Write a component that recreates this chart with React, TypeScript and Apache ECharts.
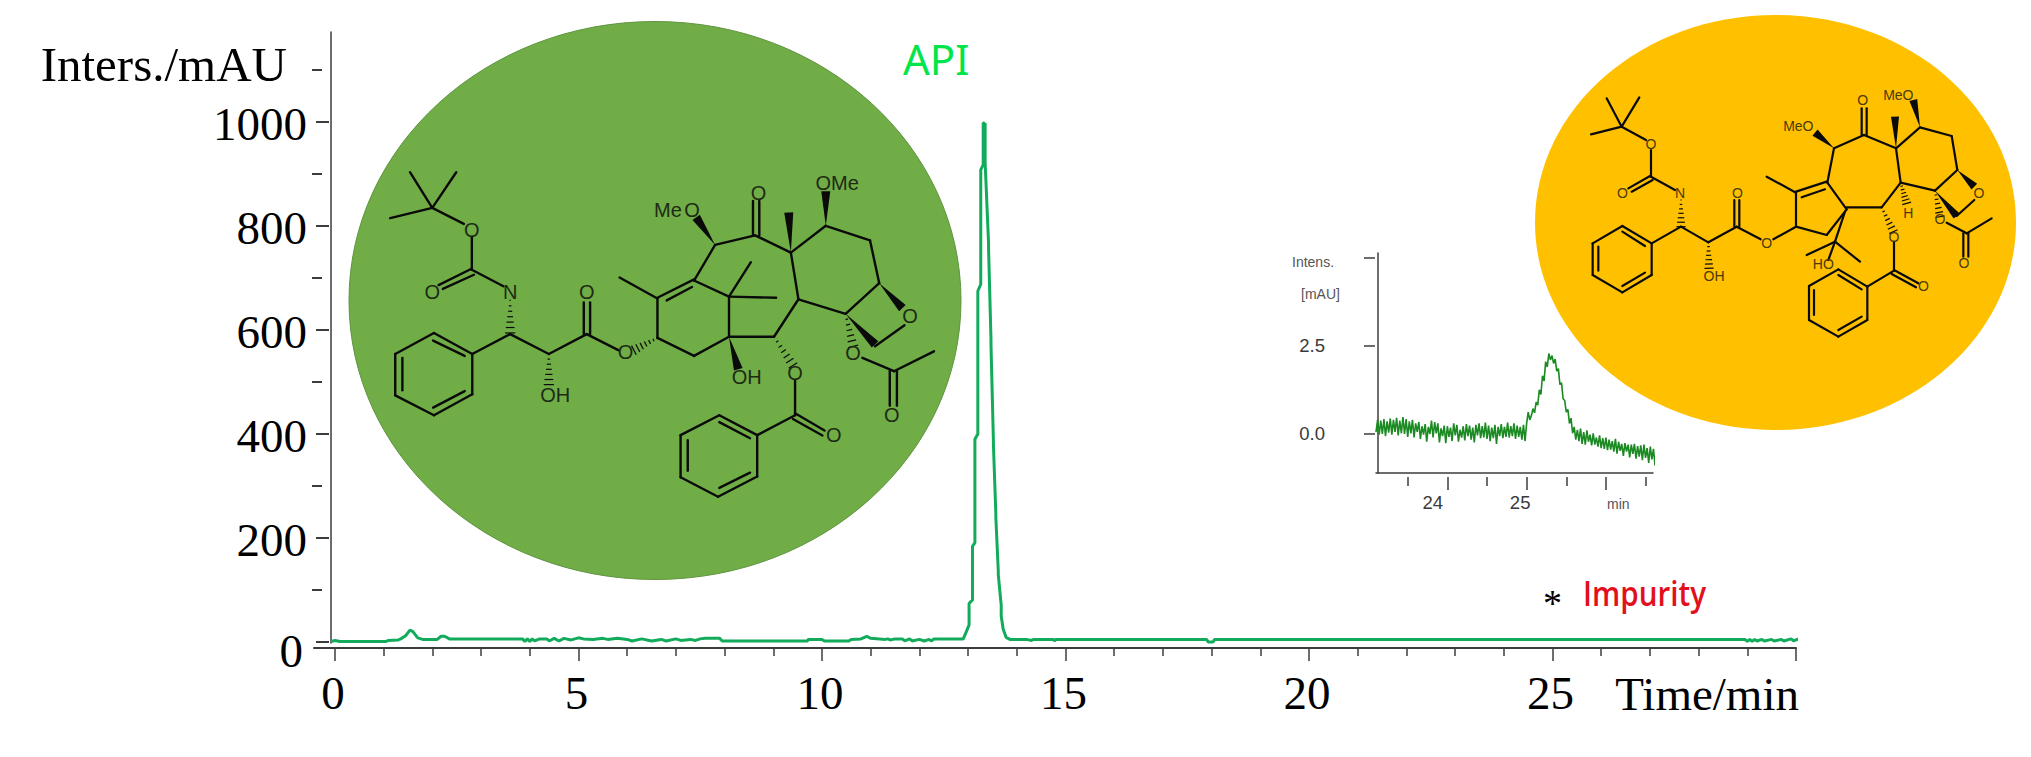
import React, { useEffect, useRef } from "react";
import * as echarts from "echarts";

const SERIF = "Liberation Serif";
const SANS = "Liberation Sans";

// ---------- main chromatogram ----------
const yMajorTicks = [0, 200, 400, 600, 800, 1000];
const yMinorTicks = [100, 300, 500, 700, 900, 1100];
const xMajorTicks = [0, 5, 10, 15, 20, 25, 30];
const xMajorLabels = [0, 5, 10, 15, 20, 25];
const xMinorTicks = [1, 2, 3, 4, 6, 7, 8, 9, 11, 12, 13, 14, 16, 17, 18, 19, 21, 22, 23, 24, 26, 27, 28, 29];

const traceTimes = [
  -0.08, 0, 0.1, 1.05, 1.1, 1.3, 1.35, 1.45, 1.54, 1.6, 1.7, 1.8, 2.1, 2.18, 2.25, 2.35, 3.85, 3.9, 3.95, 4.0, 4.05, 4.1, 4.2,
  4.35, 4.4, 4.5, 4.6, 4.7, 4.85, 5, 5.1, 5.3, 5.5, 5.6, 5.8, 6, 6.1, 6.3, 6.5, 6.7, 6.8, 7, 7.1, 7.3, 7.4, 7.5, 7.6, 7.9, 7.95,
  9.7, 9.72, 10.0, 10.05, 10.55, 10.6, 10.8, 10.92, 11.0, 11.3, 11.35, 11.4, 11.5, 11.65, 11.7, 11.8, 11.85, 12, 12.1, 12.2, 12.25, 12.3,
  12.9, 12.96, 13.02, 13.02, 13.09, 13.09, 13.14, 13.14, 13.2, 13.2, 13.26, 13.26, 13.31, 13.31, 13.33, 13.33, 13.35, 13.35, 13.42, 13.42,
  13.47, 13.47, 13.52, 13.52, 13.57, 13.57, 13.62, 13.62, 13.68, 13.68, 13.72, 13.78, 13.86, 13.93,
  14.2, 14.3, 14.35, 14.75, 14.78, 14.8, 17.9, 17.93, 18.03, 18.06, 28.95, 29, 29.05, 29.1, 29.15, 29.2, 29.3, 29.35, 29.5, 29.55,
  29.7, 29.75, 29.9, 29.95, 30.05, 30.14,
];
const traceValues = [
  1, 3, 1, 1, 3, 4, 6, 12, 23, 20, 8, 5, 5, 11, 11, 6, 6, 1, 6, 1, 6, 2, 6,
  6, 2, 7, 2, 7, 4, 8, 6, 5, 7, 5, 7, 5, 2, 6, 2, 5, 2, 6, 3, 5, 3, 6, 7, 7, 2,
  2, 5, 5, 2, 2, 5, 6, 11, 7, 5, 6, 4, 6, 6, 2, 6, 2, 5, 2, 5, 2, 6,
  6, 19, 33, 74, 81, 184, 191, 390, 400, 675, 688, 908, 918, 998, 998, 932, 998, 922, 767, 757,
  582, 572, 386, 379, 246, 239, 136, 129, 71, 50, 25, 9, 5, 5,
  5, 3, 5, 5, 2, 5, 5, 0, 0, 5, 5, 1, 5, 1, 5, 2, 5, 2, 5, 2,
  5, 2, 6, 2, 6, 3,
];

// ---------- inset chromatogram (one reading every 0.02 min from 23.10) ----------
const insetStart = 23.1;
const insetStep = 0.02;
const insetValues = [
  0.05, 0.4, -0.02, 0.38, 0.0, 0.42, -0.06, 0.36, 0.04, 0.44, -0.02, 0.4, 0.06, 0.46, -0.04, 0.38, 0.02, 0.48, 0.0, 0.42, -0.08,
  0.36, 0.02, 0.4, -0.1, 0.3, 0.06, 0.34, -0.14, 0.22, -0.02, 0.28, -0.22, 0.2, 0.0, 0.38, -0.1, 0.34, 0.02, 0.3, -0.24, 0.16, -0.06, 0.24, -0.26,
  0.22, -0.08, 0.18, -0.2, 0.3, -0.04, 0.26, -0.22, 0.12, -0.1, 0.22, -0.18, 0.28, -0.06, 0.24, -0.16, 0.18, -0.24, 0.26, -0.04, 0.3, -0.12, 0.22, -0.1, 0.32,
  -0.14, 0.24, -0.2, 0.18, -0.12, 0.26, -0.28, 0.2, -0.06, 0.28, -0.12, 0.2, -0.08, 0.32, -0.1, 0.22, -0.06, 0.3, -0.14, 0.24, -0.08, 0.2, -0.16, 0.26, -0.2,
  0.3, 0.62, 0.4, 0.52, 0.72, 0.6, 0.9, 0.82, 1.25, 1.12, 1.65, 1.5, 2.05, 1.9, 2.28, 2.1, 2.22, 2.0, 2.12, 1.78, 1.85, 1.4, 1.45, 1.0, 0.95, 0.62, 0.7, 0.3, 0.45, 0.02, 0.2,
  -0.16, 0.12, -0.2, 0.15, -0.28, 0.05, -0.3, 0.1, -0.22, -0.02, -0.32, 0.02, -0.3, -0.1, -0.36, -0.04, -0.4, -0.12, -0.42,
  -0.1, -0.46, -0.16, -0.44, -0.2, -0.5, -0.14, -0.56, -0.22, -0.48, -0.28, -0.62, -0.26, -0.5, -0.3, -0.66, -0.3, -0.56, -0.28, -0.7, -0.34, -0.64, -0.32, -0.74, -0.3, -0.68, -0.4, -0.82, -0.36,
  -0.72, -0.42, -0.9, -0.4, -0.8,
];
const insetYTicks = [0, 2.5, 5];
const insetYLabels = [0, 2.5];
const insetXMajor = [24, 25, 26];
const insetXLabels = [24, 25];
const insetXMinor = [23.5, 24.5, 25.5, 26.5];

// ---------- structure drawings (in crop coordinates, mapped by a transform) ----------
type Seg = number[];
const mol1Bonds: Seg[] = [
  [243,543,190,450],[243,543,300,450],[243,543,143,570],[243,543,318,585],[337,620,337,705],[335,703,258,745],[342,718,268,755],[337,705,412,748],
  [428,873,338,925],[338,925,338,1030],[338,1030,247,1085],[247,1085,155,1033],[155,1033,155,925],[155,925,247,870],[247,870,338,925],
  [245,890,320,930],[172,935,172,1020],[245,1065,320,1022],
  [428,873,520,925],[520,925,610,873],[603,873,603,790],[618,873,618,790],[610,873,685,915],
  [778,883,778,780],[778,778,865,730],[800,785,860,750],[778,780,688,725],[778,883,865,930],[865,930,948,880],[948,880,948,775],[948,775,865,733],
  [865,733,915,640],[915,640,1010,615],[1005,615,1005,525],[1020,615,1020,525],[1010,615,1095,660],[1095,660,1178,590],[1178,590,1283,628],
  [1283,628,1305,740],[1305,740,1225,820],[1365,850,1295,905],[1225,820,1113,782],[1113,782,1095,660],[1113,782,1055,880],[1055,880,948,880],
  [1105,995,1105,1085],[1105,1080,1175,1125],[1100,1095,1170,1138],[1105,1085,1015,1137],
  [1015,1137,1015,1245],[1015,1245,922,1298],[922,1298,833,1247],[833,1247,833,1137],[833,1137,925,1085],[925,1085,1015,1137],
  [925,1103,998,1145],[850,1150,850,1230],[925,1275,998,1235],
  [948,775,1000,685],[948,775,1060,778],[1265,935,1340,970],[1340,970,1435,918],[1330,970,1330,1060],[1347,970,1347,1060],
];
const mol1Wedges: Seg[] = [
  [915,640,870,568],[1095,660,1090,555],[1178,590,1178,500],[1305,740,1360,805],[1225,820,1295,900],[948,880,970,965],
];
const mol1Hashes: Seg[] = [
  [428,785,428,870],[520,925,520,1005],[778,883,722,915],[1055,880,1100,955],[1225,820,1243,905],
];
const mol1Atoms: [string, number, number][] = [
  ["O",337,600],["O",243,762],["N",428,763],["OH",535,1032],["O",610,763],["O",702,920],["Me",803,548],["O",860,548],["O",1018,505],
  ["OMe",1205,478],["O",1378,825],["O",1105,975],["O",1197,1137],["OH",990,985],["O",1243,922],["O",1335,1085],
];
const mol2Bonds: Seg[] = [
  [335,380,290,295],[335,380,388,292],[335,380,243,403],[335,380,408,420],[423,450,423,530],[420,528,355,565],[428,540,365,575],[423,530,495,570],
  [513,680,425,730],[425,730,425,825],[425,825,337,877],[337,877,248,825],[248,825,248,730],[248,730,337,678],[337,678,425,730],
  [337,695,405,738],[265,740,265,812],[337,858,405,818],
  [513,680,595,727],[595,727,680,680],[673,680,673,600],[688,680,688,600],[680,680,752,718],[790,718,858,680],
  [858,680,858,578],[858,575,950,545],[875,592,945,568],[858,578,770,530],[858,680,950,705],[950,705,1010,628],[1010,628,952,548],
  [952,548,972,445],[972,445,1062,405],[1055,405,1055,325],[1070,405,1070,325],[1062,405,1158,445],[1158,445,1230,382],[1230,382,1325,408],
  [1325,408,1342,510],[1342,510,1275,572],[1393,600,1340,648],[1275,572,1172,548],[1172,548,1158,445],[1172,548,1115,622],[1115,622,1010,622],
  [1152,725,1152,812],[1152,810,1225,850],[1145,822,1218,862],[1152,812,1072,860],
  [1072,860,1072,960],[1072,960,985,1010],[985,1010,897,960],[897,960,897,858],[897,858,985,808],[985,808,1072,860],
  [985,825,1055,868],[912,870,912,945],[985,990,1055,950],
  [1005,635,975,725],[975,725,890,765],[975,725,1050,785],[975,725,955,780],[1310,668,1370,700],[1370,700,1445,655],[1360,700,1360,770],[1375,700,1375,770],
];
const mol2Wedges: Seg[] = [
  [972,445,915,398],[1158,445,1155,350],[1230,382,1210,300],[1342,510,1393,560],[1275,572,1340,648],
];
const mol2Hashes: Seg[] = [
  [513,600,513,680],[595,727,597,805],[1172,548,1190,610],[1115,622,1150,695],[1275,572,1290,650],
];
const mol2Atoms: [string, number, number][] = [
  ["O",423,432],["O",337,580],["N",510,580],["OH",612,828],["O",682,580],["O",770,728],["MeO",865,378],["O",1058,300],["MeO",1165,285],
  ["O",1407,580],["H",1195,638],["O",1152,710],["O",1240,858],["HO",940,793],["O",1290,658],["O",1362,788],
];

function molecule(
  bonds: Seg[], wedges: Seg[], hashes: Seg[], atoms: [string, number, number][],
  ox: number, sx: number, sy: number, lw: number, wedgeW: number, fs: number, atomColor: string
) {
  const X = (x: number) => ox + x / sx;
  const Y = (y: number) => y / sy;
  const out: any[] = [];
  bonds.forEach(([a, b, c, d]) =>
    out.push({ type: "line", z: 3, shape: { x1: X(a), y1: Y(b), x2: X(c), y2: Y(d) }, style: { stroke: "#0a0a0a", lineWidth: lw, lineCap: "round" } })
  );
  const perp = (a: number, b: number, c: number, d: number) => {
    const dx = X(c) - X(a), dy = Y(d) - Y(b);
    const len = Math.hypot(dx, dy) || 1;
    return [-dy / len, dx / len];
  };
  wedges.forEach(([a, b, c, d]) => {
    const [px, py] = perp(a, b, c, d);
    out.push({
      type: "polygon", z: 3,
      shape: { points: [[X(a), Y(b)], [X(c) + px * wedgeW, Y(d) + py * wedgeW], [X(c) - px * wedgeW, Y(d) - py * wedgeW]] },
      style: { fill: "#0a0a0a" },
    });
  });
  hashes.forEach(([a, b, c, d]) => {
    const [px, py] = perp(a, b, c, d);
    for (let i = 0; i <= 6; i++) {
      const f = i / 6;
      const x = X(a) + (X(c) - X(a)) * f, y = Y(b) + (Y(d) - Y(b)) * f;
      const w = 0.6 + (wedgeW * f);
      out.push({ type: "line", z: 3, shape: { x1: x - px * w, y1: y - py * w, x2: x + px * w, y2: y + py * w }, style: { stroke: "#0a0a0a", lineWidth: 1.2 } });
    }
  });
  atoms.forEach(([t, x, y]) =>
    out.push({
      type: "text", z: 4, x: X(x), y: Y(y),
      style: { text: t, fontFamily: SANS, fontSize: fs, fill: atomColor, align: "center", verticalAlign: "middle" },
    })
  );
  return out;
}

function label(text: string, x: number, y: number, font: string, size: number, fill: string, extra: any = {}, scaleX = 1) {
  return { type: "text", z: 5, x, y, scaleX, style: { text: text, fontFamily: font, fontSize: size, fill, align: "left", verticalAlign: "middle", ...extra } };
}

export default function App() {
  const ref = useRef<HTMLDivElement>(null);
  useEffect(() => {
    document.body.style.margin = "0";
    const chart = echarts.init(ref.current!, undefined, { renderer: "svg" });
    const axisColor = "#3c3c3c";
    const mainLine = traceTimes.map((t, i) => [t, traceValues[i]]);
    const insetLine = insetValues.map((v, i) => [+(insetStart + i * insetStep).toFixed(2), v]);
    const serifNum = { fontFamily: SERIF, fontSize: 47, color: "#000" };
    const sansNum = { fontFamily: SANS, fontSize: 18.5, color: "#3a3a3a" };
    const hiddenLine = { show: false, onZero: false };

    const graphics: any[] = [
      { type: "ellipse", z: 1, shape: { cx: 655, cy: 300.5, rx: 306, ry: 279 }, style: { fill: "#70AD47", stroke: "#5F9440", lineWidth: 1 } },
      { type: "ellipse", z: 1, shape: { cx: 1775.5, cy: 222.5, rx: 240.5, ry: 207.5 }, style: { fill: "#FFC000" } },
      ...molecule(mol1Bonds, mol1Wedges, mol1Hashes, mol1Atoms, 330, 2.376, 2.613, 2.4, 4.5, 20, "#1e2a14"),
      ...molecule(mol2Bonds, mol2Wedges, mol2Hashes, mol2Atoms, 1510, 3, 3, 2.2, 4, 14, "#4a3a0c"),
      label("API", 903, 58, "Noto Sans", 42, "#00E64A"),
      label("Impurity", 1583, 593, "Open Sans", 34, "#E2101C", { fontWeight: 600 }, 0.87),
      label("*", 1543, 603, SERIF, 38, "#000"),
      label("Intens.", 1292, 262, SANS, 14, "#555"),
      label("[mAU]", 1301, 294, SANS, 14, "#555"),
      label("min", 1607, 504, SANS, 14, "#555"),
    ];

    const option: any = {
      animation: false,
      backgroundColor: "#fff",
      tooltip: { show: false },
      legend: { show: false },
      grid: [
        { left: 314, top: 32, width: 1482, height: 611 },
        { left: 1376, top: 253, width: 277, height: 220 },
      ],
      xAxis: [
        {
          type: "value", gridIndex: 0, min: -0.431, max: 30, offset: 5, position: "bottom", splitLine: { show: false },
          name: "Time/min", nameLocation: "end", nameGap: 3,
          nameTextStyle: { fontFamily: SERIF, fontSize: 47, color: "#000", align: "right", verticalAlign: "top", padding: [22, 0, 0, 0] },
          axisLine: { show: true, onZero: false, lineStyle: { color: axisColor, width: 2 } },
          axisTick: { show: true, length: 13, customValues: xMajorTicks, lineStyle: { color: axisColor, width: 1.5 } },
          axisLabel: { show: true, margin: 21, customValues: xMajorLabels, ...serifNum, padding: [0, 4, 0, 0] },
        },
        {
          type: "value", gridIndex: 0, min: -0.431, max: 30, offset: 5, position: "bottom", splitLine: { show: false },
          axisLine: hiddenLine,
          axisTick: { show: true, length: 8, customValues: xMinorTicks, lineStyle: { color: axisColor, width: 1.5 } },
          axisLabel: { show: false },
        },
        {
          type: "value", gridIndex: 1, min: 23.1, max: 26.594, position: "bottom", splitLine: { show: false },
          axisLine: { show: true, onZero: false, lineStyle: { color: axisColor, width: 1.5 } },
          axisTick: { show: false }, axisLabel: { show: false },
        },
        {
          type: "value", gridIndex: 1, min: 23.1, max: 26.594, offset: 4, position: "bottom", splitLine: { show: false },
          axisLine: hiddenLine,
          axisTick: { show: true, length: 13, customValues: insetXMajor, lineStyle: { color: axisColor, width: 1.5 } },
          axisLabel: {
            show: true, margin: 16, customValues: insetXLabels, ...sansNum,
            formatter: (v: number) => (v === 24 ? `{a|${v}}` : `{b|${v}}`),
            rich: { a: { ...sansNum, padding: [0, 29, 0, 0] }, b: { ...sansNum, padding: [0, 13, 0, 0] } },
          },
        },
        {
          type: "value", gridIndex: 1, min: 23.1, max: 26.594, offset: 4, position: "bottom", splitLine: { show: false },
          axisLine: hiddenLine,
          axisTick: { show: true, length: 9, customValues: insetXMinor, lineStyle: { color: axisColor, width: 1.5 } },
          axisLabel: { show: false },
        },
      ],
      yAxis: [
        {
          type: "value", gridIndex: 0, min: -1.92, max: 1173.08, offset: -17, position: "left", splitLine: { show: false },
          name: "Inters./mAU", nameLocation: "end", nameGap: 0,
          nameTextStyle: { fontFamily: SERIF, fontSize: 49, color: "#000", align: "right", verticalAlign: "top", padding: [8, 44, 0, 0] },
          axisLine: { show: true, onZero: false, lineStyle: { color: axisColor, width: 1.5 } },
          axisTick: { show: false }, axisLabel: { show: false },
        },
        {
          type: "value", gridIndex: 0, min: -1.92, max: 1173.08, offset: -15, position: "left", splitLine: { show: false },
          axisLine: hiddenLine,
          axisTick: { show: true, length: 13, customValues: yMajorTicks, lineStyle: { color: axisColor, width: 2 } },
          axisLabel: {
            show: true, margin: 22, customValues: yMajorTicks, ...serifNum, padding: [3, 0, 0, 0],
            formatter: (v: number) => (v === 0 ? "{z|0}" : `${v}`),
            rich: { z: { ...serifNum, padding: [15, 4, 0, 0] } },
          },
        },
        {
          type: "value", gridIndex: 0, min: -1.92, max: 1173.08, offset: -8, position: "left", splitLine: { show: false },
          axisLine: hiddenLine,
          axisTick: { show: true, length: 10, customValues: yMinorTicks, lineStyle: { color: axisColor, width: 2 } },
          axisLabel: { show: false },
        },
        {
          type: "value", gridIndex: 1, min: -1.105, max: 5.127, offset: -2, position: "left", splitLine: { show: false },
          axisLine: { show: true, onZero: false, lineStyle: { color: axisColor, width: 1.5 } },
          axisTick: { show: false }, axisLabel: { show: false },
        },
        {
          type: "value", gridIndex: 1, min: -1.105, max: 5.127, offset: 1, position: "left", splitLine: { show: false },
          axisLine: hiddenLine,
          axisTick: { show: true, length: 11, customValues: insetYTicks, lineStyle: { color: axisColor, width: 1.5 } },
          axisLabel: {
            show: true, margin: 50, customValues: insetYLabels, ...sansNum, padding: [0, 0, 4, 0],
            formatter: (v: number) => v.toFixed(1),
          },
        },
      ],
      series: [
        {
          type: "line", name: "API", xAxisIndex: 0, yAxisIndex: 0, data: mainLine, showSymbol: false, clip: false, smooth: false,
          lineStyle: { color: "#12AB5C", width: 3 }, z: 6,
        },
        {
          type: "line", name: "Impurity", xAxisIndex: 2, yAxisIndex: 3, data: insetLine, showSymbol: false, clip: false, smooth: false,
          lineStyle: { color: "#1B8A22", width: 1.6 }, z: 6,
        },
      ],
      graphic: { elements: graphics },
    };
    chart.setOption(option);
    return () => chart.dispose();
  }, []);
  return <div ref={ref} style={{ position: "fixed", left: 0, top: 0, width: 2031, height: 757, background: "#fff" }} />;
}
